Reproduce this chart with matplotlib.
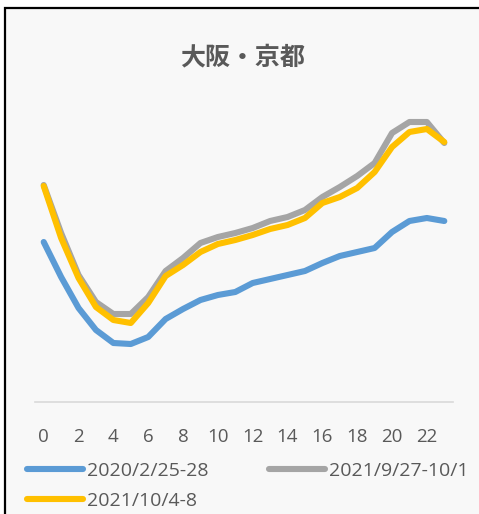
import matplotlib
matplotlib.use("Agg")
from matplotlib import pyplot as plt
from matplotlib.patches import Rectangle

plt.rcParams["font.family"] = ["Open Sans", "Noto Sans CJK JP", "DejaVu Sans"]

hours = list(range(24))
tick_hours = list(range(0, 24, 2))

# values (arbitrary units, no y scale shown)
s2020 = [160, 125, 94, 72, 59, 58, 65, 83, 93, 102, 107, 110,
         119, 123, 127, 131, 139, 146, 150, 154, 170, 181, 184, 181]
s2021_sep = [217, 169, 127, 100, 88, 88, 105, 131, 144, 159, 165, 169,
             174, 181, 185, 192, 205, 215, 226, 239, 269, 280, 280, 259]
s2021_oct = [216, 164, 124, 95, 82, 79, 99, 126, 137, 150, 158, 162,
             167, 173, 177, 184, 199, 205, 214, 230, 255, 270, 273, 260]

labels = ["2020/2/25-28", "2021/9/27-10/1", "2021/10/4-8"]
colors = ["#5B9BD5", "#A5A5A5", "#FFC000"]
title = "大阪・京都"
text_color = "#595959"

W, H = 479, 514
fig = plt.figure(figsize=(W / 100, H / 100), dpi=100, facecolor="white")

# chart frame (cut off at right and bottom in the reference)
fig.patches.append(Rectangle((4.5 / W, -0.1), 1.2, 1.1 - 8.5 / H,
                             transform=fig.transFigure, facecolor="#F8F8F8",
                             edgecolor="black", linewidth=1.6, zorder=-1))

ax = fig.add_axes([35 / W, (H - 402) / H, 418 / W, 300 / H])
ax.set_facecolor("none")

lines = []
for vals, c, lab in zip([s2020, s2021_sep, s2021_oct], colors, labels):
    ln, = ax.plot(hours, vals, color=c, lw=4.4, label=lab,
                  solid_capstyle="round", solid_joinstyle="round")
    lines.append(ln)

ax.set_xlim(-0.5, 23.5)
ax.set_ylim(0, 300)
ax.set_xticks(tick_hours)
ax.set_xticklabels([str(h) for h in tick_hours], fontsize=13.5, color=text_color)
ax.tick_params(axis="x", length=0, pad=19)
ax.set_yticks([])
for side in ["top", "right", "left"]:
    ax.spines[side].set_visible(False)
ax.spines["bottom"].set_color("#D9D9D9")
ax.spines["bottom"].set_linewidth(1.2)

fig.text(243 / W, (H - 57) / H, title, ha="center", va="center",
         fontsize=18, fontweight="bold", color=text_color,
         family=["Noto Sans CJK JP", "DejaVu Sans"])

# reorder so the legend fills row by row
leg = fig.legend([lines[0], lines[2], lines[1]],
                 [labels[0], labels[2], labels[1]],
                 ncol=2, loc="upper left", bbox_to_anchor=(27 / W, (H - 462) / H),
                 frameon=False, fontsize=14, handlelength=2.9,
                 handletextpad=0.2, columnspacing=3.1, labelspacing=0.62,
                 borderaxespad=0, borderpad=0)
for t in leg.get_texts():
    t.set_color(text_color)

fig.savefig("out.png", dpi=100, facecolor="white")
